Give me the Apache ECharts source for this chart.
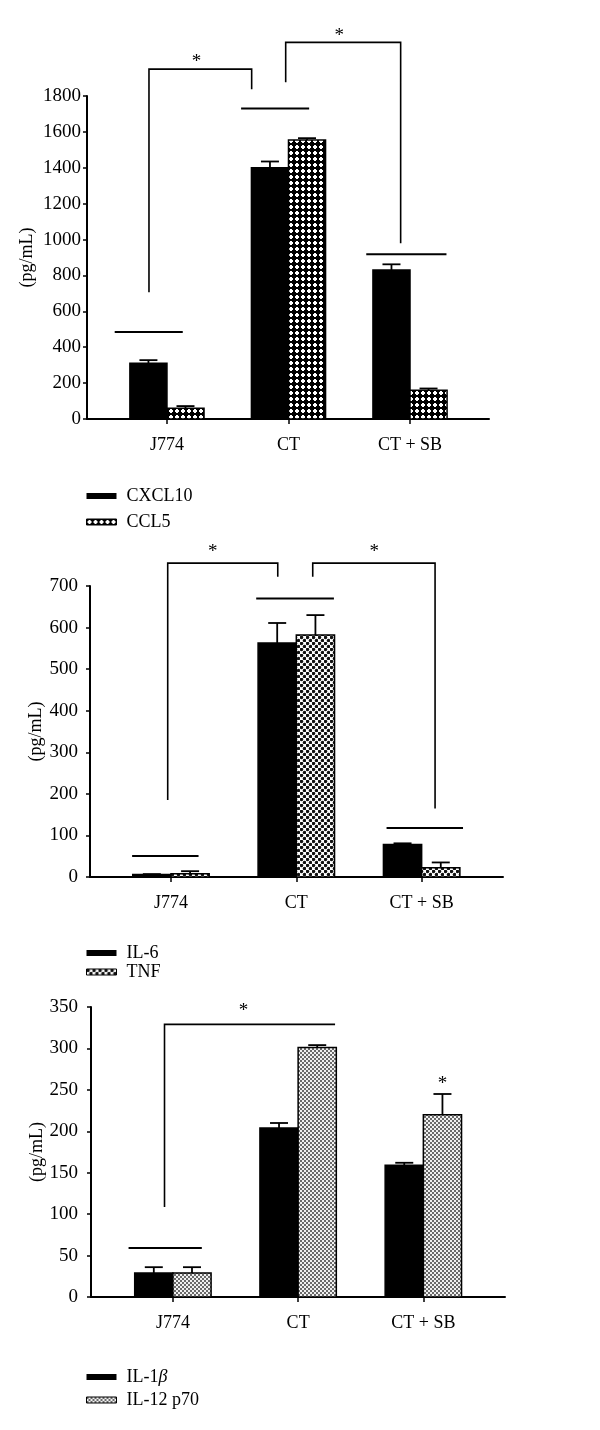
<!DOCTYPE html>
<html><head><meta charset="utf-8">
<script src="https://cdn.jsdelivr.net/npm/echarts@6/dist/echarts.min.js"></script>
<style>html,body{margin:0;padding:0;background:#fff}#c{width:600px;height:1430px}</style>
</head><body><div id="c"></div>
<script>
// ---------- DATA ----------
const categories = ['J774', 'CT', 'CT + SB'];
// Panel A
const cxcl10 = [310, 1400, 830];
const cxcl10Err = [18, 35, 32];
const ccl5 = [60, 1555, 160];
const ccl5Err = [12, 10, 10];
const yTicksA = [0, 200, 400, 600, 800, 1000, 1200, 1400, 1600, 1800];
// Panel B
const il6 = [6, 563, 78];
const il6Err = [1, 48, 3];
const tnf = [8, 582, 22];
const tnfErr = [6, 48, 13];
const yTicksB = [0, 100, 200, 300, 400, 500, 600, 700];
// Panel C
const il1b = [29, 204, 159];
const il1bErr = [7, 6, 3];
const il12 = [29, 301, 220];
const il12Err = [7, 3, 25];
const yTicksC = [0, 50, 100, 150, 200, 250, 300, 350];
// significance annotations, in data coordinates (x: category index, y: pg/mL)
const sigLinesA = [[-0.43, 485, 0.13, 485], [0.61, 1731, 1.17, 1731], [1.64, 918, 2.30, 918]];
const bracketsA = [[-0.148, 706, -0.148, 1950, 0.697, 1950, 0.697, 1837], [0.977, 1876, 0.977, 2099, 1.923, 2099, 1.923, 979]];
const starsA = [[0.244, 2010], [1.418, 2155]];
const sigLinesB = [[-0.31, 50.6, 0.22, 50.6], [0.68, 670, 1.30, 670], [1.72, 118, 2.33, 118]];
const bracketsB = [[-0.026, 185, -0.026, 755, 0.852, 755, 0.852, 722], [1.131, 722, 1.131, 755, 2.107, 755, 2.107, 165]];
const starsB = [[0.333, 791], [1.622, 791]];
const sigLinesC = [[-0.354, 59, 0.231, 59]];
const bracketsC = [[-0.067, 108.6, -0.067, 329, 1.295, 329, 1.295, 329]];
const starsC = [[0.563, 350], [2.152, 261.5]];

// ---------- STYLE ----------
const FONT = '"Liberation Serif", "DejaVu Serif", serif';

function makePattern(size, draw) {
  const c = document.createElement('canvas');
  c.width = size; c.height = size;
  const ctx = c.getContext('2d');
  draw(ctx);
  return { image: c, repeat: 'repeat' };
}
const patA = makePattern(6, ctx => {
  ctx.fillStyle = '#000'; ctx.fillRect(0, 0, 6, 6);
  ctx.fillStyle = '#fff';
  ctx.fillRect(2, 1, 2, 4); ctx.fillRect(1, 2, 4, 2);
});
const patB = makePattern(6, ctx => {
  ctx.fillStyle = '#fff'; ctx.fillRect(0, 0, 6, 6);
  ctx.fillStyle = '#111';
  ctx.beginPath(); ctx.arc(1.5, 1.5, 1.75, 0, Math.PI * 2); ctx.fill();
  ctx.beginPath(); ctx.arc(4.5, 4.5, 1.75, 0, Math.PI * 2); ctx.fill();
});
const patC = makePattern(4, ctx => {
  ctx.fillStyle = '#f0f0f0'; ctx.fillRect(0, 0, 4, 4);
  ctx.fillStyle = '#6a6a6a';
  ctx.fillRect(0, 0, 2, 2); ctx.fillRect(2, 2, 2, 2);
});

function barSeries(name, vals, errs, axisIdx, side, fill) {
  return {
    type: 'custom', name: name, xAxisIndex: axisIdx, yAxisIndex: axisIdx,
    itemStyle: { color: fill },
    data: vals.map((v, i) => [i, v, errs[i]]),
    renderItem: function (params, api) {
      const i = api.value(0), v = api.value(1), e = api.value(2);
      const unit = api.size([1, 0])[0];
      const w = unit * 0.305;
      const base = api.coord([i, 0]);
      const top = api.coord([i, v]);
      const et = api.coord([i, v + e]);
      const x0 = side < 0 ? base[0] - w : base[0];
      const cx = x0 + w / 2;
      const capHalf = 9;
      return {
        type: 'group', children: [
          { type: 'line', shape: { x1: cx, y1: top[1], x2: cx, y2: et[1] }, style: { stroke: '#000', lineWidth: 1.8 } },
          { type: 'line', shape: { x1: cx - capHalf, y1: et[1], x2: cx + capHalf, y2: et[1] }, style: { stroke: '#000', lineWidth: 1.8 } },
          { type: 'rect', shape: { x: x0, y: top[1], width: w, height: base[1] - top[1] }, style: { fill: fill, stroke: '#000', lineWidth: 1.5 } }
        ]
      };
    }
  };
}

function polySeries(lines, axisIdx, lw) {
  return {
    type: 'custom', xAxisIndex: axisIdx, yAxisIndex: axisIdx, silent: true, clip: false,
    data: lines,
    renderItem: function (params, api) {
      const n = lines[params.dataIndex].length / 2;
      const pts = [];
      for (let k = 0; k < n; k++) pts.push(api.coord([api.value(2 * k), api.value(2 * k + 1)]));
      return { type: 'polyline', shape: { points: pts }, style: { stroke: '#000', lineWidth: lw, fill: null } };
    }
  };
}

function starSeries(stars, axisIdx) {
  return {
    type: 'custom', xAxisIndex: axisIdx, yAxisIndex: axisIdx, silent: true, clip: false,
    data: stars,
    renderItem: function (params, api) {
      const p = api.coord([api.value(0), api.value(1)]);
      return { type: 'text', x: p[0], y: p[1] + 4, style: { text: '*', fill: '#000', font: '19px ' + FONT, align: 'center', verticalAlign: 'middle' } };
    }
  };
}

function xAxisCfg(gi, min, max) {
  return {
    type: 'value', gridIndex: gi, min: min, max: max,
    splitLine: { show: false },
    axisLine: { show: true, onZero: false, lineStyle: { color: '#000', width: 2 } },
    axisTick: { show: true, customValues: [0, 1, 2], length: 5, lineStyle: { color: '#000', width: 1.5 } },
    axisLabel: { customValues: [0, 1, 2], formatter: v => categories[Math.round(v)], color: '#000', fontFamily: FONT, fontSize: 18, margin: 17 }
  };
}
function yAxisCfg(gi, ticks, nameGap, labelMargin) {
  return {
    type: 'value', gridIndex: gi, min: ticks[0], max: ticks[ticks.length - 1], interval: ticks[1] - ticks[0],
    name: '(pg/mL)', nameLocation: 'middle', nameGap: nameGap, nameRotate: 90, nameMoveOverlap: false,
    nameTextStyle: { color: '#000', fontFamily: FONT, fontSize: 18 },
    splitLine: { show: false },
    axisLine: { show: true, onZero: false, lineStyle: { color: '#000', width: 2 } },
    axisTick: { show: true, length: 4, lineStyle: { color: '#000', width: 1.5 } },
    axisLabel: { color: '#000', fontFamily: FONT, fontSize: 19, margin: labelMargin, formatter: v => String(v) }
  };
}
function legendCfg(top, gap, items) {
  return {
    orient: 'vertical', left: 86, top: top, padding: 0, itemGap: gap,
    icon: 'rect', itemWidth: 30, itemHeight: 6, selectedMode: false,
    textStyle: { color: '#000', fontFamily: FONT, fontSize: 18, padding: [0, 0, 0, 5], rich: { i: { fontStyle: 'italic', fontFamily: FONT, fontSize: 18, color: '#000' } } },
    formatter: n => n.replace('β', '{i|β}'),
    data: items
  };
}

const option = {
  animation: false,
  backgroundColor: '#fff',
  grid: [
    { left: 87, top: 96, width: 402, height: 323 },
    { left: 90, top: 586, width: 413, height: 291 },
    { left: 91, top: 1007, width: 414, height: 290 }
  ],
  xAxis: [xAxisCfg(0, -0.658, 2.650), xAxisCfg(1, -0.646, 2.649), xAxisCfg(2, -0.654, 2.652)],
  yAxis: [yAxisCfg(0, yTicksA, 51, 6), yAxisCfg(1, yTicksB, 45, 12), yAxisCfg(2, yTicksC, 45, 13)],
  legend: [
    legendCfg(487, 8, [{ name: 'CXCL10', itemStyle: { color: '#000' } }, { name: 'CCL5', itemStyle: { color: patA, borderColor: '#000', borderWidth: 1 } }]),
    legendCfg(944, 1, [{ name: 'IL-6', itemStyle: { color: '#000' } }, { name: 'TNF', itemStyle: { color: patB, borderColor: '#000', borderWidth: 1 } }]),
    legendCfg(1368, 5, [{ name: 'IL-1β', itemStyle: { color: '#000' } }, { name: 'IL-12 p70', itemStyle: { color: patC, borderColor: '#000', borderWidth: 1 } }])
  ],
  series: [
    barSeries('CXCL10', cxcl10, cxcl10Err, 0, -1, '#000'),
    barSeries('CCL5', ccl5, ccl5Err, 0, 1, patA),
    barSeries('IL-6', il6, il6Err, 1, -1, '#000'),
    barSeries('TNF', tnf, tnfErr, 1, 1, patB),
    barSeries('IL-1β', il1b, il1bErr, 2, -1, '#000'),
    barSeries('IL-12 p70', il12, il12Err, 2, 1, patC),
    polySeries(sigLinesA, 0, 2), polySeries(bracketsA, 0, 1.6), starSeries(starsA, 0),
    polySeries(sigLinesB, 1, 2), polySeries(bracketsB, 1, 1.6), starSeries(starsB, 1),
    polySeries(sigLinesC, 2, 2), polySeries(bracketsC, 2, 1.6), starSeries(starsC, 2)
  ]
};
const chart = echarts.init(document.getElementById('c'), null, { renderer: 'canvas' });
chart.setOption(option);
</script>
</body></html>
